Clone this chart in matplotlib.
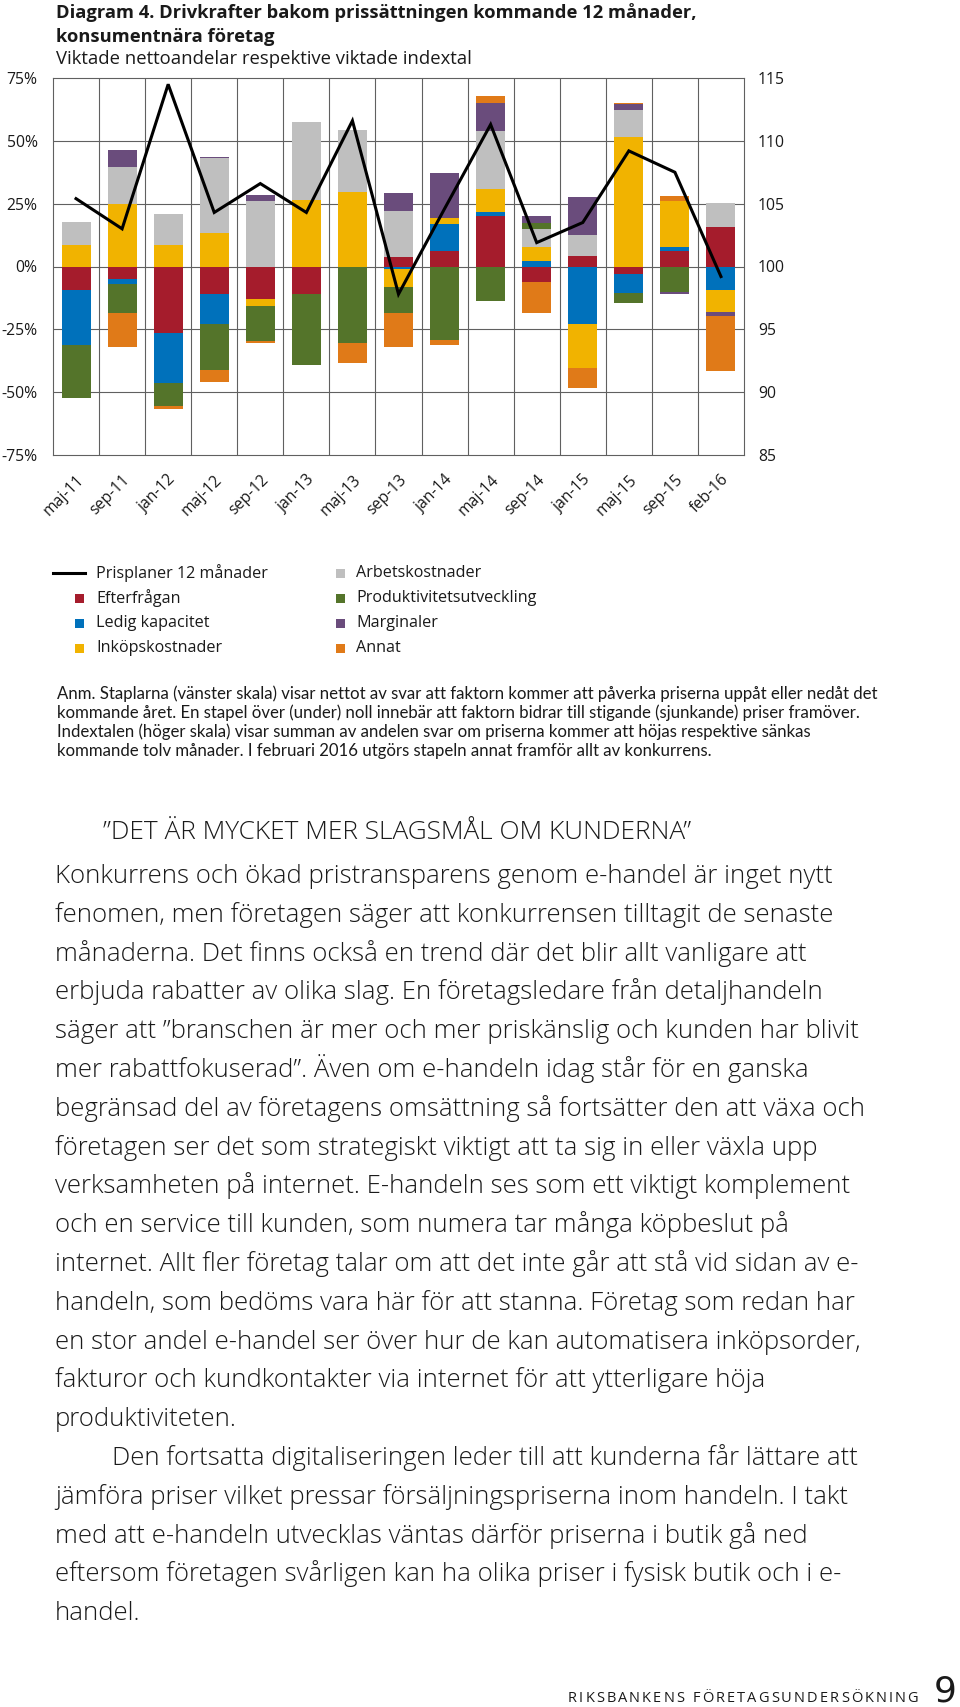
import numpy as np
import matplotlib
matplotlib.use("Agg")
import matplotlib.pyplot as plt
from matplotlib.lines import Line2D
from matplotlib.patches import Rectangle

W, H = 960, 1707

categories = ["maj-11", "sep-11", "jan-12", "maj-12", "sep-12", "jan-13", "maj-13",
              "sep-13", "jan-14", "maj-14", "sep-14", "jan-15", "maj-15", "sep-15", "feb-16"]

efterfragan = [-9.4, -4.8, -26.6, -10.9, -12.8, -11.1, 0.0, 3.6, 6.2, 20.2, -6.0, 4.1, -2.8, 6.0, 15.8]
ledig_kapacitet = [-21.9, -2.0, -19.9, -12.1, 0.0, 0.0, 0.0, -0.8, 10.9, 1.3, 2.3, -22.8, -7.7, 1.7, -9.5]
inkopskostnader = [8.7, 25.0, 8.7, 13.2, -2.9, 26.4, 29.7, -7.2, 2.2, 9.5, 5.5, -17.7, 51.4, 18.3, -8.6]
arbetskostnader = [9.0, 14.6, 12.3, 29.8, 26.0, 31.0, 24.5, 18.6, 0.0, 23.1, 7.0, 8.6, 10.7, 0.0, 9.5]
produktivitet = [-20.9, -11.6, -9.0, -18.3, -13.9, -28.2, -30.6, -10.6, -29.1, -13.8, 2.7, 0.0, -4.2, -10.2, 0.0]
marginaler = [0.0, 6.9, 0.0, 0.6, 2.6, 0.0, 0.0, 7.1, 18.1, 10.8, 2.5, 14.8, 2.5, -0.9, -1.4]
annat = [0.0, -13.6, -1.3, -4.7, -0.8, 0.0, -7.8, -13.4, -2.2, 2.9, -12.7, -7.7, 0.4, 2.2, -22.1]

prisplaner = [105.4, 103.0, 114.5, 104.3, 106.6, 104.3, 111.6, 97.8, 104.6, 111.3, 101.9, 103.5, 109.2, 107.5, 99.2]

left_ticks = [-75, -50, -25, 0, 25, 50, 75]
right_ticks = [85, 90, 95, 100, 105, 110, 115]

series_names = ["Efterfrågan", "Ledig kapacitet", "Inköpskostnader", "Arbetskostnader",
                "Produktivitetsutveckling", "Marginaler", "Annat"]
series_values = [efterfragan, ledig_kapacitet, inkopskostnader, arbetskostnader,
                 produktivitet, marginaler, annat]
series_colors = ["#A51C2C", "#0071BB", "#F1B300", "#BFBFBF", "#54742A", "#6A4C7C", "#E07A18"]
line_name = "Prisplaner 12 månader"

FONT = "Open Sans"
FONT2 = "Lato"
TXT = "#1a1a1a"
GRID = "#606060"

def fx(x):
    return x / W

def fy(y):
    return 1 - y / H

fig = plt.figure(figsize=(W / 100, H / 100), dpi=100)
fig.patch.set_facecolor("white")

ax = fig.add_axes([fx(53), fy(455), (744 - 53) / W, (455 - 78) / H])
x = np.arange(len(categories))
pos_bottom = np.zeros(len(categories))
neg_bottom = np.zeros(len(categories))
for vals, col in zip(series_values, series_colors):
    v = np.array(vals, dtype=float)
    pos = np.where(v > 0, v, 0)
    neg = np.where(v < 0, v, 0)
    ax.bar(x, pos, bottom=pos_bottom, width=0.63, color=col, linewidth=0, zorder=3)
    ax.bar(x, neg, bottom=neg_bottom, width=0.63, color=col, linewidth=0, zorder=3)
    pos_bottom += pos
    neg_bottom += neg

ax.set_xlim(-0.5, len(categories) - 0.5)
ax.set_ylim(-75, 75)
ax.set_yticks(left_ticks)
ax.set_yticklabels([f"{t}%" for t in left_ticks], fontfamily=FONT, fontsize=11.3, color=TXT)
ax.set_xticks(x)
ax.set_xticklabels(categories, rotation=45, ha="right", va="top", rotation_mode="anchor",
                   fontfamily=FONT, fontsize=11.3, color=TXT)
ax.tick_params(axis="both", length=0)
ax.tick_params(axis="y", pad=11)
ax.tick_params(axis="x", pad=12)
for t in left_ticks[1:-1]:
    ax.axhline(t, color=GRID, linewidth=0.8, zorder=1)
for b in np.arange(0.5, len(categories) - 0.5, 1.0):
    ax.axvline(b, color=GRID, linewidth=0.8, zorder=1)
for s in ax.spines.values():
    s.set_color(GRID)
    s.set_linewidth(0.8)

ax2 = ax.twinx()
ax2.plot(x, prisplaner, color="black", linewidth=2.2, solid_joinstyle="miter", zorder=5)
ax2.set_ylim(85, 115)
ax2.set_yticks(right_ticks)
ax2.set_yticklabels([str(t) for t in right_ticks], fontfamily=FONT, fontsize=11.3, color=TXT)
ax2.tick_params(axis="y", length=0, pad=10)
for s in ax2.spines.values():
    s.set_visible(False)

# Title
fig.text(fx(56), fy(18), "Diagram 4. Drivkrafter bakom prissättningen kommande 12 månader,",
         fontfamily=FONT, fontweight="bold", fontsize=13.2, color=TXT, va="baseline")
fig.text(fx(56), fy(42), "konsumentnära företag",
         fontfamily=FONT, fontweight="bold", fontsize=13.2, color=TXT, va="baseline")
fig.text(fx(56), fy(64), "Viktade nettoandelar respektive viktade indextal",
         fontfamily=FONT, fontsize=13.3, color=TXT, va="baseline")

# Legend (manual)
rows = [573, 598, 623, 648]
fig.add_artist(Line2D([fx(53), fx(85)], [fy(rows[0]), fy(rows[0])], color="black", linewidth=2.2))
fig.text(fx(96), fy(rows[0]), line_name, fontfamily=FONT, fontsize=11.6, color=TXT, va="center")
legend_pos = [(1, 0), (2, 0), (3, 0), (0, 1), (1, 1), (2, 1), (3, 1)]
sq = 9
for (r, c), name, col in zip(legend_pos, series_names, series_colors):
    sx = 75 if c == 0 else 336
    tx = 96 if c == 0 else 356
    yy = rows[r]
    fig.add_artist(Rectangle((fx(sx), fy(yy + sq / 2)), sq / W, sq / H, color=col, linewidth=0))
    fig.text(fx(tx), fy(yy), name, fontfamily=FONT, fontsize=11.6, color=TXT, va="center")

# Note
anm = [
    "Anm. Staplarna (vänster skala) visar nettot av svar att faktorn kommer att påverka priserna uppåt eller nedåt det",
    "kommande året. En stapel över (under) noll innebär att faktorn bidrar till stigande (sjunkande) priser framöver.",
    "Indextalen (höger skala) visar summan av andelen svar om priserna kommer att höjas respektive sänkas",
    "kommande tolv månader. I februari 2016 utgörs stapeln annat framför allt av konkurrens.",
]
for i, line in enumerate(anm):
    fig.text(fx(57), fy(699 + 19 * i), line, fontfamily=FONT2, fontsize=12.1, color=TXT, va="baseline")

# Heading
fig.text(fx(103), fy(839), "\u201dDET ÄR MYCKET MER SLAGSMÅL OM KUNDERNA\u201d",
         fontfamily=FONT, fontweight=300, fontsize=18.9, color=TXT, va="baseline")

body = [
    "Konkurrens och ökad pristransparens genom e-handel är inget nytt",
    "fenomen, men företagen säger att konkurrensen tilltagit de senaste",
    "månaderna. Det finns också en trend där det blir allt vanligare att",
    "erbjuda rabatter av olika slag. En företagsledare från detaljhandeln",
    "säger att \u201dbranschen är mer och mer priskänslig och kunden har blivit",
    "mer rabattfokuserad\u201d. Även om e-handeln idag står för en ganska",
    "begränsad del av företagens omsättning så fortsätter den att växa och",
    "företagen ser det som strategiskt viktigt att ta sig in eller växla upp",
    "verksamheten på internet. E-handeln ses som ett viktigt komplement",
    "och en service till kunden, som numera tar många köpbeslut på",
    "internet. Allt fler företag talar om att det inte går att stå vid sidan av e-",
    "handeln, som bedöms vara här för att stanna. Företag som redan har",
    "en stor andel e-handel ser över hur de kan automatisera inköpsorder,",
    "fakturor och kundkontakter via internet för att ytterligare höja",
    "produktiviteten.",
    "Den fortsatta digitaliseringen leder till att kunderna får lättare att",
    "jämföra priser vilket pressar försäljningspriserna inom handeln. I takt",
    "med att e-handeln utvecklas väntas därför priserna i butik gå ned",
    "eftersom företagen svårligen kan ha olika priser i fysisk butik och i e-",
    "handel.",
]
for i, line in enumerate(body):
    xx = 112 if i == 15 else 55
    fig.text(fx(xx), fy(883 + 38.8 * i), line, fontfamily=FONT, fontweight=300, fontsize=18.5,
             color=TXT, va="baseline")

# Footer with letter spacing
footer = "RIKSBANKENS FÖRETAGSUNDERSÖKNING"
r = fig.canvas.get_renderer()
widths = []
for ch in footer:
    if ch == " ":
        widths.append(4.0)
    else:
        t = fig.text(0, 0, ch, fontfamily=FONT, fontsize=10.5)
        widths.append(t.get_window_extent(r).width)
        t.remove()
target = 918 - 568
track = (target - sum(widths)) / (len(footer) - 1)
xx = 568
for ch, w in zip(footer, widths):
    if ch != " ":
        fig.text(fx(xx), fy(1702), ch, fontfamily=FONT, fontsize=10.5, color=TXT, va="baseline")
    xx += w + track
fig.text(fx(957), fy(1702), "9", fontfamily="Liberation Sans Narrow", fontsize=26, color=TXT,
         va="baseline", ha="right")

fig.savefig("out.png", dpi=100, facecolor="white")
